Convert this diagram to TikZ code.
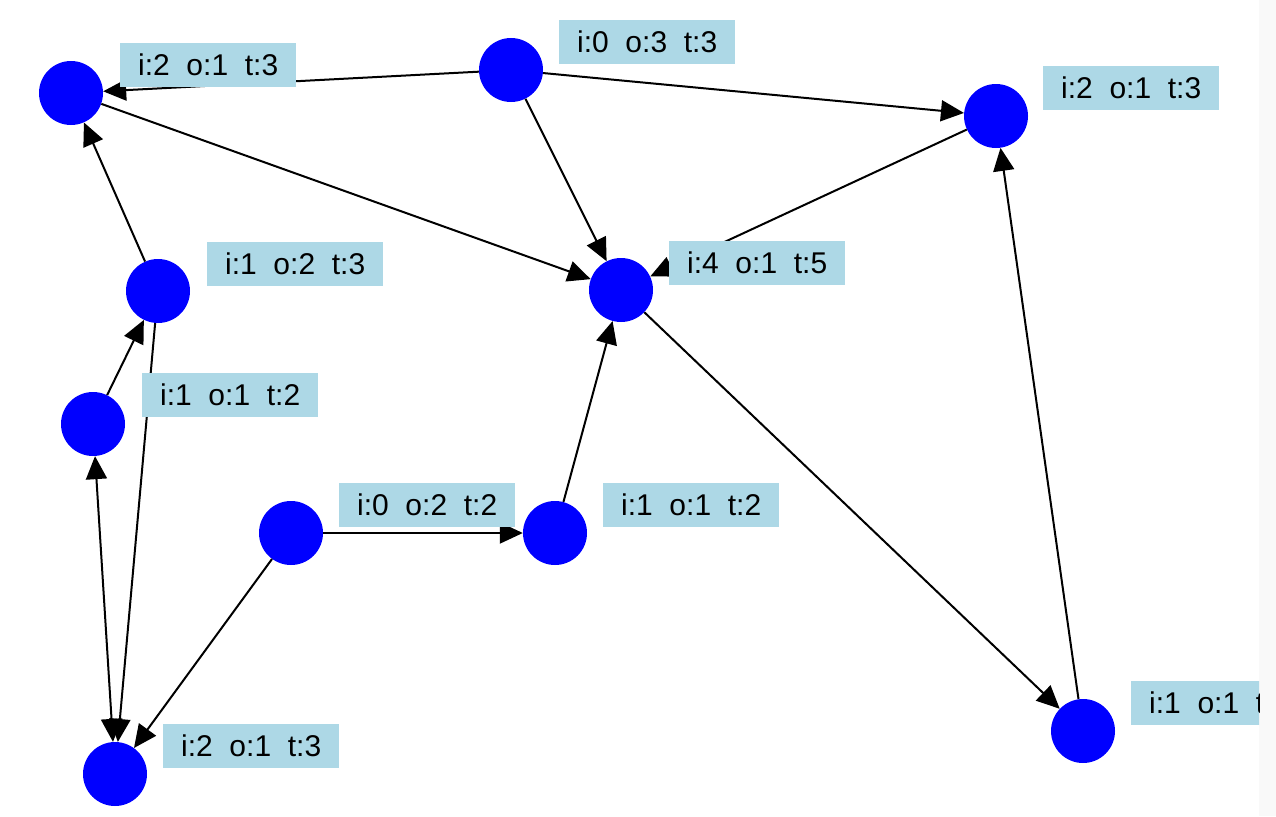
\documentclass[tikz,border=0pt]{standalone}
\usepackage{fontspec}
\setmainfont{Liberation Sans}
\usetikzlibrary{arrows.meta}
\definecolor{labblue}{RGB}{173,216,230}
\definecolor{stripgray}{RGB}{249,249,249}
\begin{document}
\begin{tikzpicture}[x=1pt,y=-1pt,
  vtx/.style={circle,fill=blue,minimum size=64pt,inner sep=0pt},
  lab/.style={fill=labblue,anchor=north west,minimum width=176pt,minimum height=44pt,inner sep=0pt,font=\fontsize{30}{30}\selectfont},
  tip/.style={Triangle[length=23pt,width=21pt]},
  edge/.style={line width=2pt,-{Triangle[length=23pt,width=21pt]}},
  bedge/.style={line width=2pt,{Triangle[length=23pt,width=21pt]}-{Triangle[length=23pt,width=21pt]}},
]
\useasboundingbox (0,0) rectangle (1276,816);
\fill[white] (0,0) rectangle (1259,816);
\fill[stripgray] (1259,0) rectangle (1276,816);

% vertices
\node[vtx] (A) at (71,93) {};
\node[vtx] (B) at (511,70) {};
\node[vtx] (C) at (996,116) {};
\node[vtx] (D) at (158,291) {};
\node[vtx] (E) at (621,290) {};
\node[vtx] (F) at (93,424) {};
\node[vtx] (G) at (291,533) {};
\node[vtx] (H) at (555,533) {};
\node[vtx] (I) at (115,774) {};
\node[vtx] (J) at (1083,731) {};

% edges
\draw[edge] (B) -- (A);
\draw[edge] (B) -- (C);
\draw[edge] (B) -- (E);
\draw[edge] (A) -- (E);
\draw[edge] (C) -- (E);
\draw[edge] (D) -- (A);
\draw[edge] (F) -- (D);
\draw[bedge] (F) -- (I);
\draw[edge] (D) -- (I);
\draw[edge] (G) -- (I);
\draw[edge] (G) -- (H);
\draw[edge] (H) -- (E);
\draw[edge] (E) -- (J);
\draw[edge] (J) -- (C);

% labels
\begin{scope}
\clip (0,0) rectangle (1259,816);
\node[lab] (lA) at (120,43) {i:2~~o:1~~t:3};
\node[lab] (lB) at (559,20) {i:0~~o:3~~t:3};
\node[lab] (lC) at (1043,66) {i:2~~o:1~~t:3};
\node[lab] (lD) at (207,242) {i:1~~o:2~~t:3};
\node[lab] (lE) at (669,241) {i:4~~o:1~~t:5};
\node[lab] (lF) at (142,373) {i:1~~o:1~~t:2};
\node[lab] (lG) at (339,483) {i:0~~o:2~~t:2};
\node[lab] (lH) at (603,483) {i:1~~o:1~~t:2};
\node[lab] (lI) at (163,724) {i:2~~o:1~~t:3};
\node[lab] (lJ) at (1131,681) {i:1~~o:1~~t:2};
\end{scope}
\end{tikzpicture}
\end{document}
